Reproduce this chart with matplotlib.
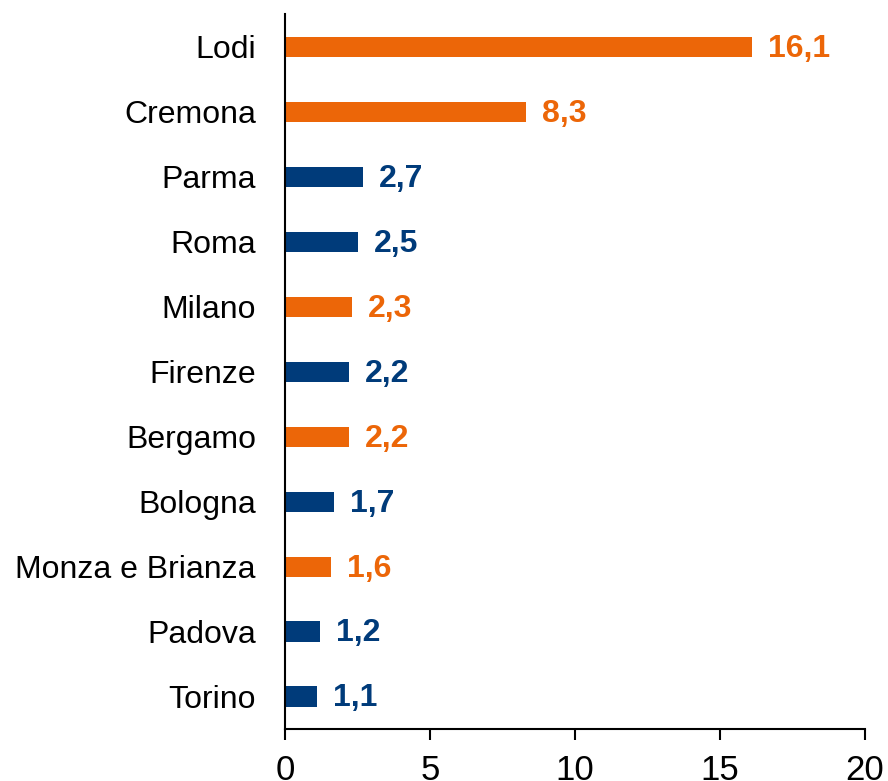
import matplotlib.pyplot as plt

plt.rcParams['font.family'] = ['Liberation Sans', 'DejaVu Sans']

provinces = ['Lodi', 'Cremona', 'Parma', 'Roma', 'Milano', 'Firenze',
             'Bergamo', 'Bologna', 'Monza e Brianza', 'Padova', 'Torino']
values = [16.1, 8.3, 2.7, 2.5, 2.3, 2.2, 2.2, 1.7, 1.6, 1.2, 1.1]
lombardia = [True, True, False, False, True, False, True, False, True, False, False]

orange = '#EC6608'
blue = '#003B7A'
colors = [orange if l else blue for l in lombardia]

fig = plt.figure(figsize=(8.88, 7.81), dpi=100)
ax = fig.add_axes([0.321, 0.0666, 0.653, 0.915])

ypos = list(range(len(provinces)))[::-1]
ax.barh(ypos, values, height=0.31, color=colors)

for y, v, c in zip(ypos, values, colors):
    ax.text(v + 0.55, y - 0.03, f'{v:.1f}'.replace('.', ','), color=c,
            fontsize=23, fontweight='bold', va='center', ha='left')

ax.set_yticks(ypos)
ax.set_yticklabels(provinces, fontsize=23)
ax.tick_params(axis='y', length=0, pad=21)
ax.set_xlim(0, 20)
ax.set_ylim(-0.5, 10.5)
ax.set_xticks([0, 5, 10, 15, 20])
ax.tick_params(axis='x', labelsize=25, length=8, width=1.5, direction='out', pad=10)

for s in ['top', 'right']:
    ax.spines[s].set_visible(False)
for s in ['left', 'bottom']:
    ax.spines[s].set_linewidth(1.5)

fig.savefig('out.png', dpi=100)
